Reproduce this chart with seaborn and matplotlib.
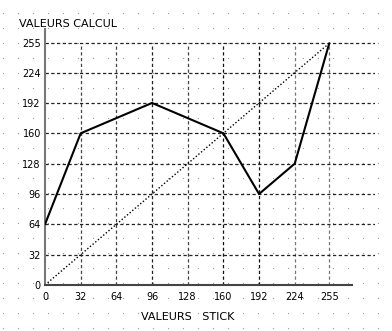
import numpy as np
import pandas as pd
import matplotlib
matplotlib.use("Agg")
import matplotlib.pyplot as plt
import seaborn as sns

# Data
stick = [0, 32, 96, 160, 192, 224, 255]
calcul = [64, 160, 192, 160, 96, 128, 255]
diag_x = [0, 255]
diag_y = [0, 255]
xticks = [0, 32, 64, 96, 128, 160, 192, 224, 255]
yticks = [0, 32, 64, 96, 128, 160, 192, 224, 255]
y_title = "VALEURS CALCUL"
x_title = "VALEURS   STICK"

sns.set_style("white")
plt.rcParams['font.family'] = ['DejaVu Sans']

W, H = 392, 331
fig = plt.figure(figsize=(W / 100, H / 100), dpi=100)

# Background dot pattern
bg = fig.add_axes([0, 0, 1, 1])
bg.set_xlim(0, W)
bg.set_ylim(H, 0)
bg.axis("off")
gx, gy = np.meshgrid(np.arange(3, W, 15), np.arange(13, H, 15))
bg.scatter(gx.ravel(), gy.ravel(), s=0.8, color="#9a9a9a", linewidths=0)

ax = fig.add_axes([45 / W, (H - 285) / H, 330 / W, 256 / H])
ax.set_facecolor("none")
ax.set_xlim(0, 296)
ax.set_ylim(0, 270)

# Grid lines
vcolors = ["#222", "#444", "#444", "#222", "#444", "#111", "#111", "#777", "#777"]
dash = (0, (2.6, 2.0))
for xv, c in zip(xticks[1:], vcolors[1:]):
    ax.vlines(xv, 0, 255, colors=c, linestyles=[dash], linewidth=0.9, zorder=1)
ax.hlines(yticks[1:], 0, 296, colors="#222", linestyles=[dash], linewidth=0.9, zorder=1)

# Diagonal dotted
ax.plot(diag_x, diag_y, color="black", linestyle=(0, (1, 1.5)), linewidth=1.0, zorder=2)

# Main data
df = pd.DataFrame({"stick": stick, "calcul": calcul})
sns.lineplot(data=df, x="stick", y="calcul", color="black", linewidth=1.5,
             sort=False, ax=ax, zorder=3)

ax.set_xlabel("")
ax.set_ylabel("")
ax.set_xticks(xticks)
ax.set_yticks(yticks)
ax.set_xticklabels([str(t) for t in xticks], fontsize=7, color="black")
ax.set_yticklabels([str(t) for t in yticks], fontsize=7, color="black")
ax.tick_params(axis="both", length=0)
ax.tick_params(axis="x", pad=5)
ax.tick_params(axis="y", pad=3)

for s in ["top", "right"]:
    ax.spines[s].set_visible(False)
ax.spines["left"].set_color("#777")
ax.spines["left"].set_linewidth(1.5)
ax.spines["bottom"].set_color("#444")
ax.spines["bottom"].set_linewidth(1.5)
ax.spines["bottom"].set_bounds(0, 275)

fig.text(19 / W, (H - 27) / H, y_title, fontsize=8, ha="left", va="baseline", color="black")
fig.text(188 / W, (H - 320) / H, x_title, fontsize=8, ha="center", va="baseline", color="black")

fig.savefig("out.png", dpi=100)
